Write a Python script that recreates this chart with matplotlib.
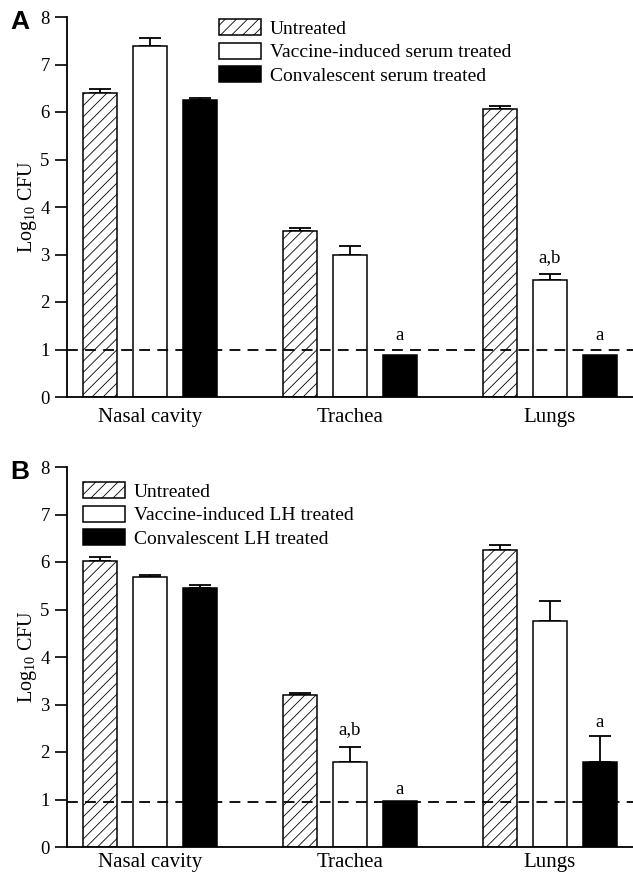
import matplotlib
matplotlib.use("Agg")
import matplotlib.pyplot as plt
import numpy as np

plt.rcParams['font.family'] = ['Liberation Serif', 'DejaVu Serif']
plt.rcParams['hatch.linewidth'] = 0.6
plt.rcParams['mathtext.fontset'] = 'custom'
plt.rcParams['mathtext.rm'] = 'Liberation Serif'

sites = ['Nasal cavity', 'Trachea', 'Lungs']

# panel A: serum treatment
labels_a = ['Untreated', 'Vaccine-induced serum treated', 'Convalescent serum treated']
untreated_a = [6.40, 3.50, 6.07]
untreated_a_err = [0.09, 0.06, 0.05]
vaccine_a = [7.38, 2.99, 2.46]
vaccine_a_err = [0.17, 0.19, 0.13]
conv_a = [6.25, 0.88, 0.88]
conv_a_err = [0.04, 0.0, 0.0]
limit_a = 1.0
notes_a = [(1, 2, 'a'), (2, 1, 'a,b'), (2, 2, 'a')]

# panel B: LH treatment
labels_b = ['Untreated', 'Vaccine-induced LH treated', 'Convalescent LH treated']
untreated_b = [6.02, 3.19, 6.26]
untreated_b_err = [0.08, 0.05, 0.10]
vaccine_b = [5.69, 1.79, 4.75]
vaccine_b_err = [0.03, 0.32, 0.43]
conv_b = [5.46, 0.96, 1.79]
conv_b_err = [0.05, 0.0, 0.55]
limit_b = 0.94
notes_b = [(1, 1, 'a,b'), (1, 2, 'a'), (2, 2, 'a')]

fig = plt.figure(figsize=(6.33, 8.75), dpi=100)
W, H = 633, 875


def panel(rect, letter, labels, series, errs, limit, notes, note_y, leg_anchor, xpad):
    x0, top, x1, bottom = rect
    ax = fig.add_axes([x0 / W, 1 - bottom / H, (x1 - x0) / W, (bottom - top) / H])
    centers = np.arange(len(sites)) * 4
    styles = [dict(facecolor='white', hatch='///'),
              dict(facecolor='white'),
              dict(facecolor='black')]
    handles = []
    for i, (vals, err, st) in enumerate(zip(series, errs, styles)):
        xs = centers + (i - 1)
        b = ax.bar(xs, vals, width=0.68, edgecolor='black', linewidth=1.1, zorder=2, **st)
        handles.append(b)
        e = np.array(err)
        m = e > 0
        ax.errorbar(xs[m], np.array(vals)[m], yerr=[np.zeros(m.sum()), e[m]], fmt='none',
                    ecolor='black', elinewidth=1.3, capsize=8, capthick=1.3, zorder=1)
    ax.axhline(limit, color='black', linestyle=(0, (6, 4)), linewidth=1.3, zorder=3)
    for g, k, txt in notes:
        ax.text(centers[g] + k - 1, note_y[(g, k)], txt, ha='center', va='center', fontsize=13.5)
    ax.set_xlim(-1.66, 9.66)
    ax.set_ylim(0, 8)
    ax.set_yticks(range(9))
    ax.set_xticks(centers)
    ax.set_xticklabels(sites, fontsize=15)
    ax.tick_params(axis='x', length=0, pad=xpad)
    ax.tick_params(axis='y', length=8.5, width=1.2, labelsize=13.5, pad=4)
    for s in ['top', 'right']:
        ax.spines[s].set_visible(False)
    for s in ['left', 'bottom']:
        ax.spines[s].set_linewidth(1.3)
    ax.set_ylabel(r'Log$_{10}$ CFU', fontsize=14.5, labelpad=1)
    fig.text(10 / W, 1 - (top + 5) / H, letter, fontsize=19, fontweight='bold',
             family='Liberation Sans', ha='left', va='center')
    ax.legend(handles, labels, loc='upper left', bbox_to_anchor=leg_anchor, frameon=False,
              fontsize=14, handlelength=2.15, handleheight=0.9, handletextpad=0.45,
              labelspacing=0.25, borderaxespad=0, borderpad=0)
    return ax


panel((67, 17, 633, 397), 'A', labels_a,
      [untreated_a, vaccine_a, conv_a], [untreated_a_err, vaccine_a_err, conv_a_err],
      limit_a, notes_a, {(1, 2): 1.3, (2, 1): 2.93, (2, 2): 1.3},
      ((219 - 67) / 566, 1 - (19 - 17) / 380), 8)

panel((67, 467, 633, 847), 'B', labels_b,
      [untreated_b, vaccine_b, conv_b], [untreated_b_err, vaccine_b_err, conv_b_err],
      limit_b, notes_b, {(1, 1): 2.47, (1, 2): 1.21, (2, 2): 2.63},
      ((83 - 67) / 566, 1 - (482 - 467) / 380), 4)

fig.savefig('out.png', dpi=100)
